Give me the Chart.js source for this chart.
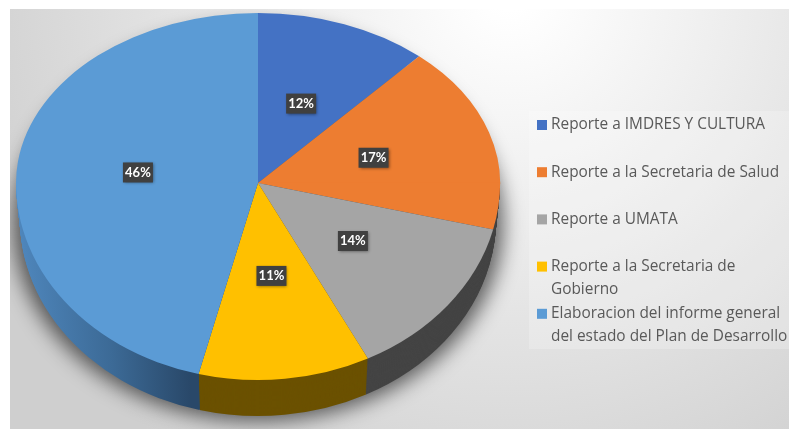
<!DOCTYPE html>
<html><head><meta charset="utf-8">
<style>html,body{margin:0;padding:0;background:#fff}canvas{display:block}</style>
<script src="https://cdn.jsdelivr.net/npm/chart.js@4"></script>
</head><body>
<canvas id="c" width="789" height="433"></canvas>
<script>
const categories = ['Reporte a IMDRES Y CULTURA','Reporte a la Secretaria de Salud','Reporte a UMATA','Reporte a la Secretaria de Gobierno','Elaboracion del informe general del estado del Plan de Desarrollo'];
const legendLines = [['Reporte a IMDRES Y CULTURA'],['Reporte a la Secretaria de Salud'],['Reporte a UMATA'],['Reporte a la Secretaria de','Gobierno'],['Elaboracion del informe general','del estado del Plan de Desarrollo']];
const values = [11.6,17.2,13.7,11.45,46.05];
const faceColors = ['#4472C4','#ED7D31','#A5A5A5','#FFC000','#5B9BD5'];
const wallColors = ['#2a4478','#444444','#444444','#6b5100',null];

const RX = 242, TOP_RY = 170, BOT_RY = 197, LABEL_BOT_RY = 187, DEPTH = 36, WALL_SHRINK = 0.11;

function paint(arc, ctx, color){
  const o = arc.options;
  arc.options = Object.assign({}, o, {backgroundColor: color, borderWidth: 0});
  arc.draw(ctx);
  arc.options = o;
}
function half(ctx, arc0, upper, rx, shift, body){
  const r = arc0.outerRadius, cx = arc0.x, cy = arc0.y;
  ctx.save();
  ctx.beginPath();
  if (upper) ctx.rect(0, 0, 789, cy + 0.5);
  else ctx.rect(0, cy + shift - 0.5, 789, 433);
  ctx.clip();
  ctx.translate(cx, cy + shift);
  ctx.scale(rx / r, (upper ? TOP_RY : BOT_RY) / r);
  ctx.translate(-cx, -cy);
  body();
  ctx.restore();
}
function softShadow(ctx, cx){
  ctx.save();
  ctx.filter = 'blur(10px)';
  ctx.fillStyle = 'rgba(0,0,0,0.6)';
  ctx.beginPath();
  ctx.ellipse(cx, 223, 245, 198, 0, 0, Math.PI * 2);
  ctx.fill();
  ctx.restore();
}
const pie3d = {
  id: 'pie3d',
  beforeDraw(chart){
    const ctx = chart.ctx;
    ctx.save();
    const g = ctx.createRadialGradient(510, -10, 20, 510, -10, 570);
    g.addColorStop(0, '#ffffff');
    g.addColorStop(1, '#cfcfcf');
    ctx.fillStyle = g;
    ctx.fillRect(10, 9, 779, 420);
    ctx.restore();
  },
  beforeDatasetsDraw(chart){
    const ctx = chart.ctx, arcs = chart.getDatasetMeta(0).data, a0 = arcs[0];
    const r = a0.outerRadius, cx = a0.x;
    ctx.save();
    ctx.beginPath(); ctx.rect(10, 9, 779, 420); ctx.clip();
    softShadow(ctx, cx);
    // side wall
    const sx = RX / r;
    const blue = ctx.createLinearGradient(cx + (14 - cx) / sx, 0, cx + (190 - cx) / sx, 0);
    blue.addColorStop(0, '#4f87bd');
    blue.addColorStop(0.55, '#3c6a96');
    blue.addColorStop(1, '#294869');
    for (let d = DEPTH; d >= 1; d--) {
      half(ctx, a0, false, RX - d * WALL_SHRINK, d, () => {
        arcs.forEach((a,i) => paint(a, ctx, wallColors[i] || blue));
      });
    }
    // top face
    half(ctx, a0, true, RX, 0, () => arcs.forEach((a,i) => paint(a, ctx, faceColors[i])));
    half(ctx, a0, false, RX, 0, () => arcs.forEach((a,i) => paint(a, ctx, faceColors[i])));
    ctx.restore();
    return false;
  },
  afterDraw(chart){
    const ctx = chart.ctx, arcs = chart.getDatasetMeta(0).data, a0 = arcs[0];
    const total = values.reduce((s,v) => s + v, 0);
    // percent labels
    arcs.forEach((a,i) => {
      const p = a.getCenterPoint();
      const px = a0.x + (p.x - a0.x) * RX / a0.outerRadius;
      const ry = p.y < a0.y ? TOP_RY : LABEL_BOT_RY;
      const py = a0.y + (p.y - a0.y) * ry / a0.outerRadius;
      ctx.save();
      ctx.shadowColor = 'rgba(0,0,0,0.45)'; ctx.shadowBlur = 3; ctx.shadowOffsetX = 1; ctx.shadowOffsetY = 1;
      ctx.fillStyle = '#404040';
      ctx.fillRect(px - 15, py - 10, 30, 20);
      ctx.restore();
      ctx.fillStyle = '#fff';
      ctx.font = 'bold 13px Lato';
      ctx.textAlign = 'center'; ctx.textBaseline = 'middle';
      ctx.fillText(Math.round(values[i] / total * 100) + '%', px, py);
    });
    // legend
    ctx.save();
    ctx.fillStyle = 'rgba(255,255,255,0.22)';
    ctx.fillRect(529, 111, 260, 238);
    ctx.font = '15.4px "Open Sans"';
    ctx.textAlign = 'left'; ctx.textBaseline = 'middle';
    legendLines.forEach((lines,i) => {
      const y = 125 + i * 47.2;
      ctx.fillStyle = faceColors[i];
      ctx.fillRect(537, y - 5, 10, 10);
      ctx.fillStyle = '#595959';
      lines.forEach((t,j) => ctx.fillText(t, 551, y + j * 23));
    });
    ctx.restore();
  }
};
new Chart(document.getElementById('c'), {
  type: 'pie',
  data: { labels: categories, datasets: [{ data: values, backgroundColor: faceColors, borderWidth: 0 }] },
  options: {
    responsive: false, animation: false,
    layout: { padding: { left: 88, right: 361, top: 13, bottom: 80 } },
    plugins: { legend: { display: false }, tooltip: { enabled: false } }
  },
  plugins: [pie3d]
});
</script>
</body></html>
